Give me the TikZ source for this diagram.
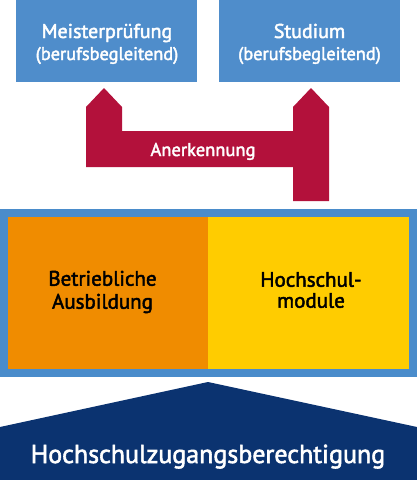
\documentclass[tikz,border=0pt]{standalone}
\usepackage{fontspec}
\setmainfont{PT Sans}[FakeBold=2.2]
\definecolor{lblue}{HTML}{4F8DCB}
\definecolor{fblue}{HTML}{4A8CCB}
\definecolor{crimson}{HTML}{B3113B}
\definecolor{orng}{HTML}{F08C00}
\definecolor{yell}{HTML}{FFCC00}
\definecolor{navy}{HTML}{0B3370}
\tikzset{
  topbox/.style={fill=lblue, draw=none},
  whitetxt/.style={text=white, align=center, inner sep=0pt, anchor=base},
  blacktxt/.style={text=black, align=center, inner sep=0pt},
}
\begin{document}
\begin{tikzpicture}[x=1pt,y=-1pt]
\useasboundingbox (0,0) rectangle (417,480);
% top boxes
\fill[topbox] (16,0) rectangle (197,82);
\fill[topbox] (219,0) rectangle (400,82);
\node[whitetxt, font=\fontsize{20}{20}\selectfont] (mp) at (107,38) {Meisterprüfung};
\node[whitetxt, font=\fontsize{18.3}{20}\selectfont] (mpb) at (107,60) {(berufsbegleitend)};
\node[whitetxt, font=\fontsize{20}{20}\selectfont] (st) at (309.5,38) {Studium};
\node[whitetxt, font=\fontsize{18.3}{20}\selectfont] (stb) at (309.5,60) {(berufsbegleitend)};
% red connector shape
\fill[crimson] (104,88) -- (122,107) -- (122,131) -- (293,131) -- (293,107) -- (311,88)
  -- (329,107) -- (329,201) -- (293,201) -- (293,167) -- (86,167) -- (86,107) -- cycle;
\node[whitetxt, font=\fontsize{18.5}{20}\selectfont] (an) at (203,156) {Anerkennung};
% frame
\fill[fblue] (0,209) rectangle (417,377);
\fill[orng] (8,217) rectangle (208,369);
\fill[yell] (208,217) rectangle (409,369);
\node[blacktxt, font=\fontsize{21}{23}\selectfont] (ba) at (102.5,292) {Betriebliche\\Ausbildung};
\node[blacktxt, font=\fontsize{21}{21}\selectfont] (hm) at (311,290) {Hochschul-\\module};
% base
\fill[navy] (208,382) -- (417,427) -- (417,480) -- (0,480) -- (0,427) -- cycle;
\node[whitetxt, font=\fontsize{26}{30}\selectfont] (hz) at (208,463) {Hochschulzugangsberechtigung};
\end{tikzpicture}
\end{document}
